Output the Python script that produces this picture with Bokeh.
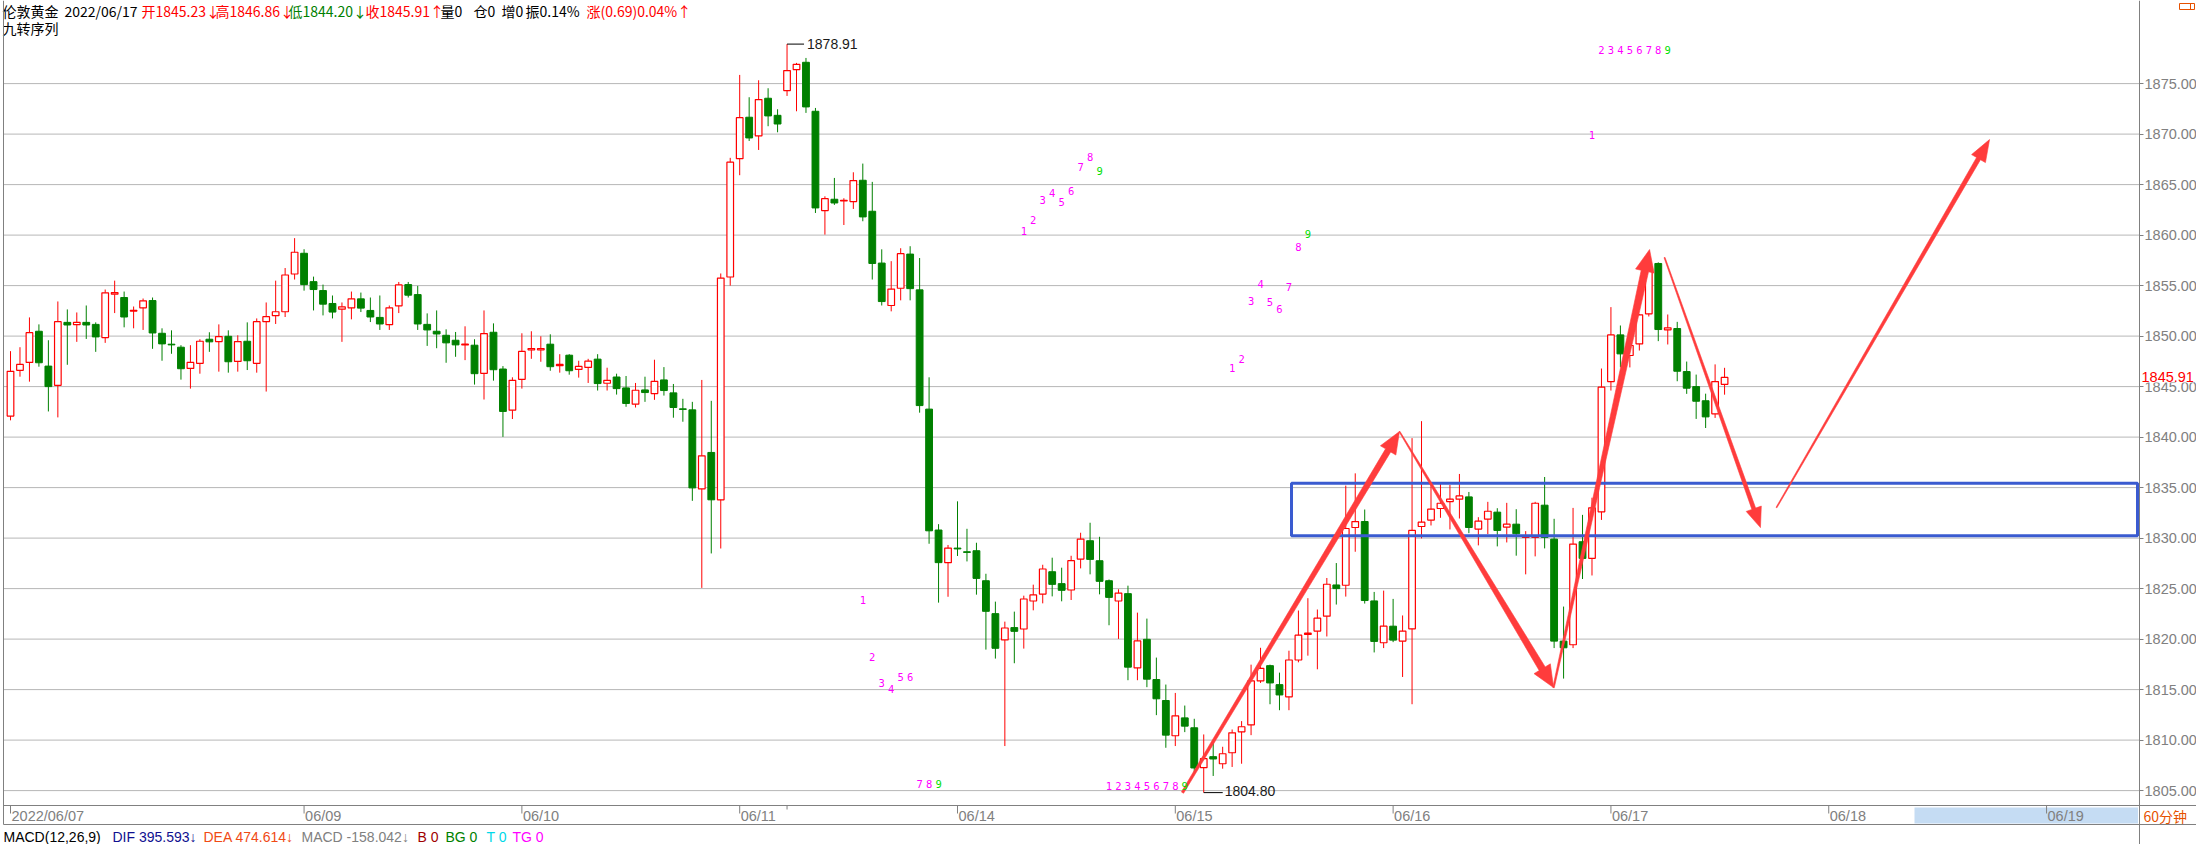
import math
import numpy as np
from bokeh.plotting import figure
from bokeh.models import Range1d, FixedTicker, Label, NumeralTickFormatter, ColumnDataSource
from bokeh.core.properties import value
from bokeh.embed import file_html
from bokeh.resources import INLINE

# ---------------- data (hourly bars, London gold) ----------------
OPEN = [1842.08, 1846.61, 1847.39, 1850.48, 1847.03, 1845.13, 1851.36, 1851.13, 1851.36, 1851.16,
        1849.85, 1854.15, 1853.82, 1852.48, 1852.80, 1853.52, 1850.28, 1849.20, 1848.90, 1846.80,
        1847.30, 1849.69, 1849.46, 1849.98, 1847.49, 1849.49, 1847.30, 1851.43, 1852.02, 1852.41,
        1856.15, 1858.20, 1855.39, 1854.51, 1853.23, 1852.67, 1852.80, 1853.69, 1852.54, 1851.85,
        1851.13, 1853.00, 1855.10, 1854.11, 1851.16, 1850.48, 1850.08, 1849.59, 1849.13, 1849.10,
        1846.31, 1850.38, 1846.74, 1842.67, 1845.72, 1848.64, 1848.64, 1849.20, 1847.07, 1848.11,
        1846.70, 1846.90, 1847.72, 1845.33, 1845.95, 1844.87, 1843.26, 1844.67, 1844.31, 1845.66,
        1844.38, 1842.80, 1842.70, 1834.87, 1838.48, 1833.79, 1855.85, 1867.57, 1871.67, 1869.82,
        1873.55, 1871.86, 1874.31, 1876.39, 1877.11, 1872.26, 1862.43, 1863.55, 1863.38, 1863.32,
        1865.43, 1862.36, 1857.23, 1853.03, 1854.74, 1858.12, 1854.58, 1842.77, 1830.80, 1827.57,
        1829.01, 1828.65, 1828.75, 1825.78, 1822.52, 1819.92, 1821.14, 1821.00, 1823.77, 1824.46,
        1826.67, 1825.49, 1824.86, 1827.92, 1829.74, 1827.76, 1825.78, 1823.77, 1824.50, 1817.15,
        1819.98, 1816.00, 1813.92, 1810.43, 1812.20, 1811.22, 1807.27, 1808.36, 1807.66, 1808.75,
        1810.82, 1811.51, 1815.86, 1817.37, 1815.49, 1814.28, 1817.93, 1820.46, 1820.79, 1822.27,
        1825.36, 1825.33, 1831.05, 1831.64, 1823.78, 1819.64, 1821.28, 1819.80, 1821.02, 1831.15,
        1831.78, 1832.93, 1833.62, 1833.85, 1834.08, 1830.89, 1831.88, 1832.57, 1831.09, 1831.38,
        1830.07, 1830.07, 1833.26, 1829.90, 1819.80, 1819.44, 1829.64, 1828.00, 1832.60, 1845.50,
        1850.12, 1848.08, 1849.23, 1852.21, 1857.19, 1850.62, 1850.75, 1846.49, 1845.00, 1843.60,
        1842.30, 1845.23]
HIGH = [1848.51, 1848.90, 1851.85, 1851.16, 1849.59, 1853.43, 1852.64, 1852.34, 1853.03, 1851.36,
        1854.61, 1855.49, 1854.41, 1852.93, 1853.72, 1853.82, 1850.77, 1850.57, 1849.10, 1849.10,
        1849.69, 1850.38, 1851.16, 1850.57, 1850.08, 1851.36, 1851.75, 1853.33, 1855.49, 1856.74,
        1859.70, 1858.60, 1855.89, 1855.10, 1854.02, 1853.33, 1854.41, 1854.31, 1853.82, 1854.02,
        1853.03, 1855.36, 1855.36, 1854.97, 1852.25, 1852.54, 1850.67, 1850.41, 1850.97, 1849.69,
        1852.54, 1851.26, 1847.03, 1845.92, 1850.28, 1850.48, 1849.98, 1850.18, 1848.21, 1848.21,
        1847.56, 1847.75, 1848.21, 1846.87, 1846.28, 1846.05, 1845.36, 1845.98, 1847.66, 1846.93,
        1845.26, 1843.79, 1843.49, 1845.66, 1843.59, 1856.20, 1867.65, 1875.86, 1873.65, 1875.33,
        1874.54, 1872.46, 1878.91, 1877.05, 1877.54, 1872.59, 1863.84, 1865.66, 1863.65, 1866.22,
        1867.08, 1865.27, 1858.59, 1857.42, 1858.70, 1858.90, 1857.73, 1845.92, 1831.38, 1829.32,
        1833.64, 1830.92, 1829.54, 1826.47, 1823.71, 1821.73, 1822.72, 1824.30, 1825.39, 1827.36,
        1828.06, 1827.07, 1828.25, 1830.53, 1831.52, 1830.13, 1825.90, 1824.93, 1825.29, 1822.62,
        1822.03, 1818.17, 1815.50, 1814.67, 1813.42, 1812.11, 1810.56, 1810.00, 1809.34, 1811.05,
        1811.88, 1817.47, 1819.14, 1817.47, 1816.68, 1818.85, 1822.83, 1824.05, 1822.93, 1826.05,
        1827.53, 1835.20, 1836.41, 1832.83, 1824.67, 1824.80, 1823.98, 1822.34, 1839.90, 1841.58,
        1835.53, 1835.36, 1835.26, 1836.35, 1834.57, 1832.07, 1833.59, 1832.96, 1833.49, 1832.86,
        1830.69, 1833.59, 1836.05, 1831.91, 1823.22, 1832.99, 1832.30, 1834.00, 1846.79, 1852.87,
        1851.05, 1849.30, 1852.20, 1857.90, 1857.30, 1852.14, 1851.41, 1847.48, 1846.19, 1844.30,
        1847.20, 1846.86]
LOW = [1841.66, 1845.98, 1845.49, 1846.97, 1842.54, 1841.95, 1847.16, 1849.43, 1849.72, 1848.44,
       1849.33, 1852.28, 1850.87, 1850.77, 1850.61, 1848.74, 1847.56, 1848.25, 1845.69, 1844.80,
       1846.28, 1848.44, 1846.48, 1846.38, 1846.48, 1846.64, 1846.38, 1844.51, 1851.20, 1851.89,
       1855.60, 1854.50, 1852.54, 1852.05, 1851.75, 1849.43, 1851.66, 1852.38, 1851.39, 1850.61,
       1850.61, 1852.28, 1853.82, 1850.61, 1849.03, 1848.80, 1847.36, 1847.95, 1847.62, 1845.20,
       1843.72, 1845.59, 1840.02, 1841.79, 1844.80, 1847.75, 1847.46, 1846.57, 1846.38, 1846.18,
       1845.89, 1845.36, 1844.61, 1844.61, 1844.21, 1843.00, 1842.93, 1843.49, 1843.69, 1844.11,
       1841.92, 1841.52, 1833.69, 1825.07, 1828.48, 1828.97, 1855.00, 1865.93, 1869.32, 1868.43,
       1870.78, 1870.18, 1873.78, 1872.26, 1872.10, 1862.19, 1860.05, 1862.99, 1861.00, 1862.59,
       1861.37, 1855.60, 1853.03, 1852.45, 1853.54, 1853.54, 1842.42, 1829.44, 1823.61, 1824.19,
       1828.23, 1827.69, 1824.40, 1818.96, 1818.07, 1809.41, 1817.61, 1819.06, 1822.85, 1823.54,
       1824.23, 1823.74, 1823.87, 1827.00, 1826.41, 1824.43, 1821.37, 1820.02, 1815.93, 1815.93,
       1815.24, 1812.47, 1809.24, 1809.41, 1810.79, 1806.78, 1804.80, 1806.45, 1807.17, 1807.34,
       1807.66, 1810.49, 1815.66, 1813.55, 1812.96, 1812.96, 1817.70, 1818.36, 1817.01, 1820.26,
       1823.42, 1824.21, 1828.65, 1823.52, 1818.68, 1819.11, 1819.70, 1816.25, 1813.55, 1829.97,
       1831.25, 1832.01, 1830.86, 1831.94, 1830.49, 1829.28, 1830.39, 1829.18, 1829.57, 1828.26,
       1826.41, 1828.19, 1828.98, 1819.11, 1816.09, 1819.11, 1825.95, 1826.30, 1831.80, 1844.61,
       1846.92, 1846.90, 1848.57, 1851.94, 1849.50, 1849.17, 1845.53, 1844.28, 1841.80, 1840.90,
       1841.90, 1844.20]
CLOSE = [1846.51, 1847.20, 1850.34, 1847.36, 1845.00, 1851.43, 1851.10, 1851.36, 1851.10, 1849.92,
         1854.28, 1854.31, 1851.89, 1852.54, 1853.49, 1850.31, 1849.23, 1849.13, 1846.77, 1847.39,
         1849.49, 1849.43, 1849.95, 1847.46, 1849.46, 1847.56, 1851.43, 1851.92, 1852.41, 1856.05,
         1858.30, 1855.10, 1854.61, 1853.16, 1852.38, 1852.90, 1853.69, 1852.77, 1851.89, 1851.20,
         1852.80, 1855.07, 1854.05, 1851.20, 1850.61, 1850.21, 1849.33, 1849.13, 1849.20, 1846.28,
         1850.25, 1846.67, 1842.54, 1845.62, 1848.48, 1848.77, 1848.77, 1846.97, 1847.20, 1846.57,
         1847.00, 1847.52, 1845.30, 1845.62, 1844.80, 1843.33, 1844.64, 1844.41, 1845.52, 1844.61,
         1842.93, 1842.74, 1834.97, 1838.15, 1833.79, 1855.75, 1867.22, 1871.63, 1869.62, 1873.42,
         1871.80, 1871.00, 1876.29, 1876.91, 1872.69, 1862.69, 1863.61, 1863.18, 1863.45, 1865.40,
         1861.80, 1857.19, 1853.42, 1854.66, 1858.16, 1854.70, 1843.12, 1830.72, 1827.57, 1829.01,
         1828.93, 1828.58, 1826.01, 1822.75, 1819.09, 1821.10, 1820.77, 1823.97, 1824.37, 1826.94,
         1825.42, 1824.83, 1827.76, 1829.90, 1827.89, 1825.72, 1824.13, 1824.56, 1817.22, 1819.82,
         1816.03, 1814.09, 1810.49, 1812.40, 1811.38, 1807.24, 1808.16, 1808.13, 1808.65, 1810.72,
         1811.32, 1815.86, 1817.11, 1815.66, 1814.47, 1817.93, 1820.39, 1820.59, 1822.07, 1825.43,
         1825.00, 1830.95, 1831.64, 1823.82, 1819.77, 1821.28, 1819.90, 1820.79, 1830.76, 1831.58,
         1832.86, 1833.45, 1833.85, 1834.18, 1831.05, 1831.68, 1832.66, 1830.76, 1831.38, 1830.43,
         1830.16, 1833.45, 1830.07, 1819.80, 1819.14, 1829.41, 1827.99, 1833.00, 1844.94, 1850.12,
         1848.24, 1849.07, 1852.11, 1856.90, 1850.65, 1850.82, 1846.52, 1844.84, 1843.55, 1842.00,
         1845.50, 1845.91]

Y_TICKS = [1805, 1810, 1815, 1820, 1825, 1830, 1835, 1840, 1845, 1850, 1855, 1860, 1865, 1870, 1875]
DATE_TICK_BARS = [0, 31, 54, 77, 100, 123, 146, 169, 192, 215]
DATE_TICK_LABELS = ["2022/06/07", "06/09", "06/10", "06/11", "06/14", "06/15", "06/16", "06/17", "06/18", "06/19"]
HIDDEN_TICK_BARS = [82]

# TD "九转序列" counts: bar index, digit, price level where it is printed
SEQ_BARS = [90, 91, 92, 93, 94, 95, 96, 97, 98,
            107, 108, 109, 110, 111, 112, 113, 114, 115,
            116, 117, 118, 119, 120, 121, 122, 123, 124,
            129, 130, 131, 132, 133, 134, 135, 136, 137,
            167, 168, 169, 170, 171, 172, 173, 174, 175]
SEQ_DIGITS = ["1", "2", "3", "4", "5", "6", "7", "8", "9"] * 5
SEQ_PRICES = [1823.9, 1818.2, 1815.7, 1815.1, 1816.2, 1816.2, 1805.7, 1805.7, 1805.7,
              1860.45, 1861.53, 1863.51, 1864.20, 1863.25, 1864.40, 1866.77, 1867.69, 1866.31,
              1805.45, 1805.45, 1805.45, 1805.45, 1805.45, 1805.45, 1805.45, 1805.45, 1805.45,
              1846.88, 1847.70, 1853.43, 1855.18, 1853.37, 1852.64, 1854.85, 1858.87, 1860.12,
              1869.88, 1878.37, 1878.37, 1878.37, 1878.37, 1878.37, 1878.37, 1878.37, 1878.37]

# hand-drawn annotations (bar index, price)
ARROW_PATHS = [((123.76, 1804.80), (146.67, 1840.55)),
               ((146.67, 1840.55), (162.94, 1815.20)),
               ((162.94, 1815.20), (173.08, 1858.57)),
               ((174.66, 1857.78), (184.79, 1831.04)),
               ((186.48, 1833.02), (208.98, 1869.46))]
ZONE = (1830.23, 1835.43)

HEADER = [("伦敦黄金", "#000000", 2), ("2022/06/17", "#000000", 64), ("开1845.23↓", "#FF0000", 141),
          ("高1846.86↓", "#FF0000", 215), ("低1844.20↓", "#008000", 288), ("收1845.91↑", "#FF0000", 365),
          ("量0", "#000000", 440), ("仓0", "#000000", 473), ("增0", "#000000", 501),
          ("振0.14%", "#000000", 525), ("涨(0.69)0.04%↑", "#FF0000", 586)]
MACD_LEGEND = [("MACD(12,26,9)", "#000000", 3), ("DIF 395.593↓", "#101090", 112),
               ("DEA 474.614↓", "#F04A14", 203), ("MACD -158.042↓", "#808080", 301),
               ("B 0", "#A00000", 417), ("BG 0", "#008000", 445), ("T 0", "#00D8E8", 486),
               ("TG 0", "#FF00FF", 512)]

# ---------------- geometry helpers (reference pixel -> data) ----------------
W, H = 2196, 844
BAR_PX = 9.47
BAR0_PX = 10.0
UNIT_PX = 10.1
Y1875_PX = 83.1
AXIS_PX = 2139


def rx(x_px):
    return (x_px - BAR0_PX) / BAR_PX


def ry(y_px):
    return 1875 - (y_px - Y1875_PX) / UNIT_PX


def px_x(i):
    return BAR0_PX + BAR_PX * i


def px_y(pr):
    return Y1875_PX + (1875 - pr) * UNIT_PX


RED = "#FF0000"
GREEN = "#008000"
ARROW_RED = "#FF3C3C"
GRAY = "#808080"

p = figure(width=W, height=H, output_backend="svg", toolbar_location=None,
           x_range=Range1d(rx(0), rx(W)), y_range=Range1d(ry(H), ry(0)),
           x_axis_location=None, y_axis_location="right",
           min_border_left=0, min_border_right=0, min_border_top=0, min_border_bottom=0)
p.outline_line_color = None
p.background_fill_color = "white"
p.border_fill_color = "white"
p.xgrid.visible = False
p.ygrid.visible = False

ax = p.yaxis[0]
ax.fixed_location = rx(AXIS_PX)
ax.ticker = FixedTicker(ticks=Y_TICKS)
ax.formatter = NumeralTickFormatter(format="0.00")
ax.major_label_text_font = "Liberation Sans"
ax.major_label_text_font_size = "14.5px"
ax.major_label_text_color = GRAY
ax.axis_line_color = GRAY
ax.major_tick_line_color = GRAY
ax.major_tick_out = 4
ax.major_tick_in = 0
ax.minor_tick_line_color = None
ax.major_label_standoff = 1

# dotted horizontal grid, stopping at the price axis
p.segment(x0=[rx(3)] * len(Y_TICKS), y0=Y_TICKS, x1=[rx(AXIS_PX)] * len(Y_TICKS), y1=Y_TICKS,
          line_color="#6E6E6E", line_dash="1 1", line_width=1)

# ---------------- candles ----------------
o = np.array(OPEN); h = np.array(HIGH); l = np.array(LOW); c = np.array(CLOSE)
idx = np.arange(len(o))
up = c >= o
dn = ~up
src_up = ColumnDataSource(dict(x=idx[up], top=c[up], bottom=o[up], hi=h[up], lo=l[up]))
src_dn = ColumnDataSource(dict(x=idx[dn], top=o[dn], bottom=c[dn], hi=h[dn], lo=l[dn]))
p.segment(x0="x", y0="lo", x1="x", y1="hi", source=src_up, line_color=RED, line_width=1)
p.segment(x0="x", y0="lo", x1="x", y1="hi", source=src_dn, line_color=GREEN, line_width=1)
p.vbar(x="x", width=0.70, top="top", bottom="bottom", source=src_up,
       fill_color="white", line_color=RED, line_width=1.2)
p.vbar(x="x", width=0.72, top="top", bottom="bottom", source=src_dn,
       fill_color=GREEN, line_color=GREEN, line_width=1)

# highest / lowest markers
hi_i = int(np.argmax(h)); lo_i = int(np.argmin(l))
p.segment(x0=[hi_i, lo_i], y0=[h[hi_i], l[lo_i]],
          x1=[hi_i + 17 / BAR_PX, lo_i + 19 / BAR_PX], y1=[h[hi_i], l[lo_i]],
          line_color="#000000", line_width=1)
p.text(x=[hi_i + 20 / BAR_PX], y=[h[hi_i]], text=[f"{h[hi_i]:.2f}"], text_color="#1a1a1a",
       text_font=value("Liberation Sans"), text_font_size="14px", text_baseline="middle",
       text_align="left")
p.text(x=[lo_i + 21 / BAR_PX], y=[l[lo_i] + 2 / UNIT_PX], text=[f"{l[lo_i]:.2f}"], text_color="#1a1a1a",
       text_font=value("Liberation Sans"), text_font_size="14px", text_baseline="alphabetic",
       text_align="left")

# ---------------- support zone ----------------
p.quad(left=[rx(1291)], right=[rx(2137)], bottom=[ZONE[0]], top=[ZONE[1]],
       fill_color=None, line_color="#3A5BD0", line_width=3)

# ---------------- arrows ----------------
SHAFT = [(2.5, 6.0, 22, 9), (1.0, 7.0, 22, 9.5), (1.5, 7.5, 22, 9.5), (1.0, 4.0, 20, 8), (1.0, 4.5, 22, 8)]
axs, ays = [], []
for (s, e), (w0, w1, hl, hw) in zip(ARROW_PATHS, SHAFT):
    sx, sy = px_x(s[0]), px_y(s[1])
    ex, ey = px_x(e[0]), px_y(e[1])
    L = math.hypot(ex - sx, ey - sy)
    ux, uy = (ex - sx) / L, (ey - sy) / L
    nx, ny = -uy, ux
    bx, by = ex - ux * hl, ey - uy * hl
    pts = [(sx + nx * w0 / 2, sy + ny * w0 / 2), (bx + nx * w1 / 2, by + ny * w1 / 2),
           (bx + nx * hw, by + ny * hw), (ex, ey), (bx - nx * hw, by - ny * hw),
           (bx - nx * w1 / 2, by - ny * w1 / 2), (sx - nx * w0 / 2, sy - ny * w0 / 2)]
    axs.append([rx(x) for x, y in pts])
    ays.append([ry(y) for x, y in pts])
p.patches(xs=axs, ys=ays, fill_color=ARROW_RED, line_color=ARROW_RED, line_width=0.6)

# ---------------- TD sequence digits ----------------
seq_colors = ["#00E000" if d == "9" else "#FF00FF" for d in SEQ_DIGITS]
p.text(x=SEQ_BARS, y=SEQ_PRICES, text=SEQ_DIGITS, text_color=seq_colors,
       text_font=value("DejaVu Sans Mono"), text_font_size="10.5px", text_align="center",
       text_baseline="middle")

# ---------------- header ----------------
p.text(x=[rx(xp) for _, _, xp in HEADER], y=[ry(10)] * len(HEADER), text=[t for t, _, _ in HEADER],
       text_color=[col for _, col, _ in HEADER], text_font=value("Noto Sans CJK SC"),
       text_font_size="14px", text_baseline="middle", text_align="left")
p.text(x=[rx(2)], y=[ry(27)], text=["九转序列"], text_color="#000000",
       text_font=value("Noto Sans CJK SC"), text_font_size="14px", text_baseline="middle",
       text_align="left")

# ---------------- frame lines & date strip ----------------
p.segment(x0=[rx(3), rx(3), rx(3)], y0=[ry(0), ry(805), ry(824)],
          x1=[rx(3), rx(W), rx(W)], y1=[ry(824), ry(805), ry(824)],
          line_color=GRAY, line_width=1)
p.quad(left=[rx(1914)], right=[rx(2137.5)], bottom=[ry(823)], top=[ry(807)],
       fill_color="#C5DCF3", line_color=None)
p.segment(x0=DATE_TICK_BARS, y0=[ry(805)] * len(DATE_TICK_BARS),
          x1=DATE_TICK_BARS, y1=[ry(813)] * len(DATE_TICK_BARS), line_color=GRAY, line_width=1)
p.segment(x0=HIDDEN_TICK_BARS, y0=[ry(805)] * len(HIDDEN_TICK_BARS),
          x1=HIDDEN_TICK_BARS, y1=[ry(809)] * len(HIDDEN_TICK_BARS), line_color=GRAY, line_width=1)
p.text(x=DATE_TICK_BARS, y=[ry(815)] * len(DATE_TICK_BARS), text=DATE_TICK_LABELS,
       text_color=GRAY, text_font=value("Liberation Sans"), text_font_size="14.5px",
       text_baseline="middle", text_align="left", x_offset=1)

# ---------------- MACD legend ----------------
p.text(x=[rx(xp) for _, _, xp in MACD_LEGEND], y=[ry(836)] * len(MACD_LEGEND),
       text=[t for t, _, _ in MACD_LEGEND], text_color=[col for _, col, _ in MACD_LEGEND],
       text_font=value("Liberation Sans"), text_font_size="14px", text_baseline="middle",
       text_align="left")

# ---------------- right side labels ----------------
p.text(x=[rx(2143)], y=[ry(815)], text=["60分钟"], text_color="#E65100",
       text_font=value("Noto Sans CJK SC"), text_font_size="14px", text_baseline="middle",
       text_align="left")
p.quad(left=[rx(2179)], right=[rx(2194)], bottom=[ry(9)], top=[ry(3)],
       fill_color=None, line_color="#E65100", line_width=1)
p.segment(x0=[rx(2190)], y0=[ry(3)], x1=[rx(2190)], y1=[ry(9)], line_color="#E65100", line_width=1)
p.add_layout(Label(x=rx(2141), y=c[-1], text=f"{c[-1]:.2f}", text_color="#FF0000",
                   text_font="Liberation Sans", text_font_size="14.5px", text_baseline="middle",
                   text_align="left", background_fill_color="white"))

open("out.html", "w").write(file_html(p, INLINE))
